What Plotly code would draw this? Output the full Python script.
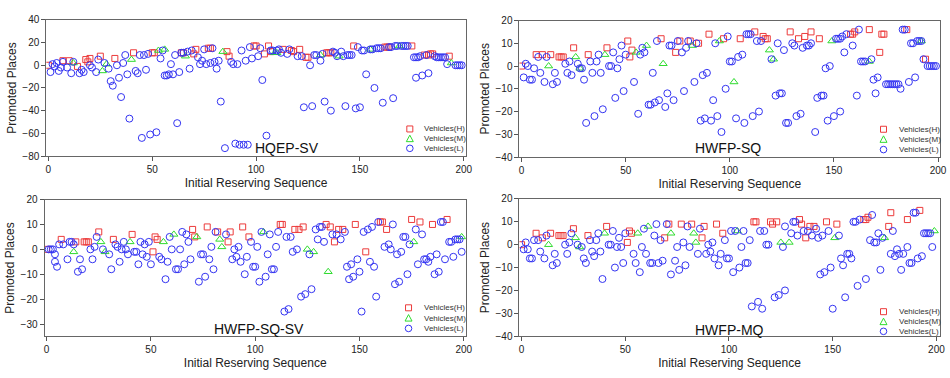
import plotly.graph_objects as go

W, H = 950, 378

# ---------------- data (x = initial reserving sequence, y = promoted places) ----------------
panel_titles = ["HQEP-SV", "HWFP-SQ", "HWFP-SQ-SV", "HWFP-MQ"]
series_names = ["Vehicles(H)", "Vehicles(M)", "Vehicles(L)"]
x_ticks = [0, 50, 100, 150, 200]

p1_h = [(0,0),(7,4),(10,4),(14,-1),(18,5),(19,3),(20,6),(25,8),(32,6),(41,11),(50,11),(51,11),
        (64,11),(65,11),(70,10),(71,14),(77,15),(78,15),(86,12),(87,8),(99,17),(100,17),(104,10),
        (106,17),(107,12),(113,14),(117,13),(118,12),(121,14),(124,7),(125,7),(134,11),(135,11),
        (136,11),(147,17),(162,16),(163,16),(164,16),(175,17),(181,9),(183,9),(184,10),(185,10),(193,8)]
p1_m = [(12,2),(26,-5),(28,1),(40,5),(53,13),(56,14),(66,8),(84,12),(109,11),(110,11),(131,9),
        (140,8),(155,14),(169,17),(194,2)]
p1_l = [(1,-6),(2,1),(3,-1),(4,2),(5,-5),(6,-2),(7,3),(9,-2),(11,-7),(12,3),(15,-7),(16,-4),(17,-6),
        (20,0),(21,-2),(23,-6),(24,5),(27,2),(29,-3),(30,-14),(31,-18),(33,0),(34,-11),(35,-28),(36,2),
        (37,9),(38,-8),(39,-47),(42,-5),(43,-7),(44,9),(45,-64),(46,9),(47,-4),(48,10),(49,-61),(52,-59),
        (54,6),(55,13),(56,-9),(57,-9),(58,-8),(59,1),(60,-8),(61,9),(62,-51),(63,-6),(64,11),(65,11),
        (67,12),(68,-3),(69,13),(72,7),(73,1),(74,4),(75,14),(76,1),(78,2),(79,15),(80,3),(81,-3),(82,4),
        (83,-32),(85,-73),(88,3),(89,1),(90,-69),(91,1),(92,-70),(93,13),(94,-70),(95,4),(96,-70),(97,16),
        (98,6),(101,8),(102,15),(103,-13),(105,-62),(107,13),(108,13),(110,13),(111,14),(112,11),(115,10),
        (116,14),(120,8),(122,8),(123,-37),(126,0),(127,-36),(128,9),(129,9),(131,4),(132,10),(133,-32),
        (136,-40),(137,12),(138,11),(139,8),(141,12),(142,8),(143,-36),(144,9),(145,9),(146,9),(148,-38),
        (149,16),(150,-37),(151,13),(152,13),(153,-8),(155,14),(156,14),(157,-20),(158,15),(159,15),
        (160,15),(161,-33),(164,16),(165,16),(166,-29),(167,17),(168,17),(170,17),(171,17),(172,17),
        (173,17),(176,7),(177,7),(177,-11),(178,7),(179,8),(180,-9),(182,9),(183,-7),(186,8),(187,7),
        (188,7),(189,7),(190,7),(191,7),(192,1),(196,0),(197,0),(198,0),(199,0)]

p2_h = [(0,0),(7,5),(10,5),(14,5),(18,4),(19,4),(20,4),(25,8),(32,5),(41,8),(51,11),(52,4),(53,7),
        (67,12),(74,6),(76,11),(81,11),(85,10),(90,14),(97,12),(105,12),(112,15),(116,13),(117,12),
        (118,12),(129,15),(133,12),(136,13),(139,15),(143,12),(158,14),(159,14),(160,15),(167,16),
        (172,6),(173,14),(174,14),(185,16),(194,3)]
p2_m = [(13,0),(26,4),(28,-1),(40,5),(55,6),(60,9),(68,1),(82,9),(95,11),(102,-7),(119,7),(121,3),
        (149,11),(167,2),(192,11)]
p2_l = [(1,-5),(2,1),(3,0),(4,-6),(5,-6),(6,-1),(8,4),(9,-3),(11,-7),(12,4),(15,-8),(16,-3),(17,-7),
        (21,1),(22,-3),(23,2),(24,-4),(27,1),(28,-1),(29,-1),(30,-6),(31,-25),(33,2),(34,-3),(35,-22),
        (36,2),(37,5),(38,-3),(39,-19),(42,0),(43,0),(44,6),(45,-14),(46,-1),(47,3),(48,9),(49,-11),
        (50,5),(54,-7),(56,-21),(57,5),(58,8),(59,6),(61,-17),(62,-17),(63,-3),(64,-16),(65,11),(66,-15),
        (69,-18),(70,-12),(71,9),(72,9),(73,-15),(75,11),(77,6),(78,-11),(79,8),(80,11),(83,-7),(84,10),
        (86,-24),(87,-4),(88,-23),(89,-3),(91,-24),(92,-15),(93,10),(94,-22),(96,-29),(98,-10),(99,13),
        (100,2),(101,2),(103,-23),(104,4),(106,5),(107,-25),(108,14),(109,14),(110,14),(111,-22),
        (113,11),(114,-20),(115,11),(120,3),(122,-13),(123,10),(124,-12),(125,-12),(126,7),(127,-25),
        (128,-25),(130,10),(131,9),(132,-22),(134,-21),(135,8),(137,9),(138,9),(139,10),(141,-29),
        (142,-14),(144,-13),(145,-13),(146,-1),(147,-24),(148,0),(150,-22),(151,12),(152,12),(153,12),
        (153,-20),(154,13),(155,6),(156,14),(159,9),(161,-13),(162,16),(163,2),(164,2),(165,2),(168,3),
        (169,-6),(170,-12),(171,-5),(175,-8),(176,-8),(177,-8),(178,-8),(179,-8),(180,-8),(181,-8),
        (182,-10),(183,16),(184,16),(186,-7),(187,10),(188,10),(189,-5),(190,11),(191,11),(192,11),
        (193,3),(195,0),(196,0),(197,0),(198,0),(199,0)]

p3_h = [(0,0),(7,4),(14,3),(18,3),(19,3),(20,3),(25,7),(32,4),(41,6),(51,-1),(52,5),(53,4),(70,8),
        (71,5),(77,9),(82,7),(87,3),(88,7),(94,9),(97,5),(112,10),(113,10),(119,8),(121,8),(123,9),
        (134,10),(136,9),(138,3),(140,8),(142,8),(148,10),(153,-1),(160,11),(161,11),(163,8),(175,12),
        (179,11),(185,10),(192,12)]
p3_m = [(13,-1),(26,3),(28,-1),(40,3),(56,3),(61,6),(72,5),(83,4),(84,1),(104,7),(125,0),(128,-1),
        (135,-9),(176,3),(199,5)]
p3_l = [(1,0),(2,0),(3,0),(4,-2),(4,-5),(5,-7),(6,2),(8,2),(10,-4),(11,3),(12,3),(13,2),(15,-9),
        (16,-4),(17,-8),(21,0),(22,-4),(23,1),(24,5),(27,0),(30,-2),(31,-8),(33,2),(34,1),(35,-5),
        (36,0),(37,3),(38,0),(39,-2),(42,-1),(43,-1),(44,-6),(45,3),(46,-2),(47,2),(48,-3),(49,3),
        (50,-6),(54,-3),(55,-4),(57,-12),(58,-5),(59,5),(60,0),(62,-8),(63,-8),(64,0),(65,7),(66,-6),
        (67,6),(68,3),(69,-4),(73,-13),(74,-2),(75,-2),(76,-11),(78,-4),(79,1),(80,-8),(81,7),(86,6),
        (89,-4),(90,0),(91,-3),(92,1),(93,-5),(95,-10),(96,-3),(98,3),(99,-7),(100,-7),(101,1),
        (102,-13),(103,7),(105,-11),(106,-2),(107,6),(108,-8),(109,-8),(110,1),(111,7),(114,-25),
        (115,5),(116,-24),(117,5),(118,-1),(120,0),(122,-19),(124,-18),(126,-2),(127,-16),(129,8),
        (130,4),(131,9),(132,9),(133,3),(137,6),(139,6),(141,4),(143,7),(144,-7),(145,-12),(146,-6),
        (147,-11),(149,-4),(150,-9),(151,-25),(152,7),(154,8),(155,-5),(156,9),(157,-7),(158,-19),
        (159,11),(162,1),(164,2),(165,0),(166,10),(167,-14),(168,-2),(169,-13),(170,-1),(171,5),
        (172,5),(173,-10),(174,2),(177,8),(178,-6),(180,6),(181,-4),(182,-4),(183,-5),(184,-3),
        (186,-10),(187,-2),(188,-9),(189,11),(190,11),(191,-4),(193,3),(194,3),(195,-3),(196,4),
        (197,4),(198,4),(199,-1)]

p4_h = [(0,0),(7,5),(10,3),(14,5),(18,4),(19,4),(20,4),(25,7),(32,4),(41,8),(51,1),(52,6),(53,5),
        (69,3),(71,9),(77,9),(82,9),(87,3),(88,8),(94,9),(97,5),(112,10),(113,10),(120,10),(121,9),
        (123,10),(134,11),(135,9),(137,3),(139,8),(141,8),(147,10),(152,9),(165,11),(166,11),(167,12),
        (177,8),(178,14),(186,11),(192,15)]
p4_m = [(13,0),(26,3),(28,-1),(40,5),(56,5),(61,8),(72,5),(83,5),(84,1),(104,6),(125,1),(129,1),
        (151,3),(175,3),(199,6)]
p4_l = [(1,-2),(2,1),(3,-2),(4,-6),(5,-6),(6,2),(8,2),(9,-3),(11,-6),(12,4),(15,-9),(16,-4),(17,-8),
        (21,0),(22,-4),(23,1),(24,5),(27,0),(29,-1),(30,-6),(31,-8),(33,2),(34,-3),(35,-5),(36,2),
        (37,5),(38,-3),(39,-15),(42,0),(43,0),(44,6),(45,-10),(46,-1),(47,3),(48,-1),(49,-8),(50,5),
        (54,-4),(55,-8),(57,-12),(58,-1),(59,7),(60,-4),(62,-8),(63,-8),(64,4),(65,9),(66,-8),(67,2),
        (68,-7),(70,9),(72,-13),(74,-7),(75,-1),(76,-11),(78,1),(79,-9),(80,8),(81,-1),(85,-4),(86,7),
        (89,-4),(90,0),(91,-3),(92,1),(93,-6),(95,-9),(96,-4),(98,2),(99,-6),(100,-6),(101,6),
        (102,-12),(103,6),(105,-10),(106,-1),(107,6),(108,-8),(109,-8),(110,2),(111,-27),(114,-25),
        (115,6),(116,-28),(117,6),(118,0),(119,0),(122,-23),(124,-22),(126,-1),(127,8),(127,-20),
        (130,5),(131,10),(132,10),(133,4),(136,6),(138,6),(140,4),(142,7),(143,3),(144,-13),(145,4),
        (146,-12),(148,6),(149,-10),(150,-28),(153,4),(154,-6),(155,-9),(156,-23),(157,-4),(158,-4),
        (159,-6),(160,10),(161,10),(162,-18),(163,11),(166,-15),(168,2),(169,13),(170,1),(171,1),
        (172,5),(173,-11),(174,3),(178,-4),(179,6),(180,-5),(181,-2),(182,-4),(183,-11),(184,-4),
        (186,-1),(187,-8),(188,-8),(189,14),(190,14),(191,-6),(193,-5),(194,5),(195,5),(196,5),
        (197,5),(198,-1)]

panels_data = [(p1_h, p1_m, p1_l), (p2_h, p2_m, p2_l), (p3_h, p3_m, p3_l), (p4_h, p4_m, p4_l)]
y_ranges = [(-80, 40), (-40, 20), (-35, 20), (-40, 20)]
y_dticks = [20, 10, 10, 10]

# ---------------- styling ----------------
RED, GREEN, BLUE = "#EC3B3B", "#2FDC2F", "#3434F2"
colors = [RED, GREEN, BLUE]
symbols = ["square-open", "triangle-up-open", "circle-open"]
sizes = [6, 7, 7]
FONT = "Liberation Sans, Arial, sans-serif"

# plot-area boxes in pixels: (left, right, top, bottom)
boxes = [(45.7, 468.8, 14.3, 155.0), (522.9, 947.1, 15.0, 156.0),
         (43.9, 468.8, 199.9, 341.3), (522.9, 946.5, 199.3, 341.0)]
x_ranges = [(-1, 201), (-1, 201), (-1, 201), (-1, 201.5)]

fig = go.Figure()
for i, data in enumerate(panels_data):
    ax = "" if i == 0 else str(i + 1)
    for j, pts in enumerate(data):
        xs = [p[0] for p in pts]
        ys = [p[1] for p in pts]
        fig.add_trace(go.Scatter(
            x=xs, y=ys, mode="markers", name=series_names[j], showlegend=False,
            xaxis="x" + ax, yaxis="y" + ax,
            marker=dict(symbol=symbols[j], size=sizes[j], color=colors[j],
                        line=dict(width=1, color=colors[j]))))

layout = dict(
    width=W, height=H, margin=dict(l=0, r=0, t=0, b=0),
    paper_bgcolor="white", plot_bgcolor="white",
    font=dict(family=FONT, color="#222"),
    showlegend=False,
)
axis_common = dict(showgrid=False, zeroline=False, showline=True, mirror=True,
                   linecolor="#666", linewidth=1, ticks="outside", ticklen=4,
                   tickwidth=1, tickcolor="#555", tickfont=dict(size=10, color="#222"))
for i, (l, r, t, b) in enumerate(boxes):
    ax = "" if i == 0 else str(i + 1)
    layout["xaxis" + ax] = dict(
        axis_common, domain=[l / W, r / W], range=list(x_ranges[i]),
        anchor="y" + ax, tickvals=x_ticks,
        title=dict(text="Initial Reserving Sequence", font=dict(size=12, color="#222"), standoff=4))
    layout["yaxis" + ax] = dict(
        axis_common, domain=[1 - b / H, 1 - t / H], range=list(y_ranges[i]),
        anchor="x" + ax, dtick=y_dticks[i], tick0=0,
        title=dict(text="Promoted Places", font=dict(size=12, color="#222"), standoff=3))
fig.update_layout(**layout)

# panel captions
cap_pos = [(288, 146.7), (733.3, 146.7), (260.5, 333.3), (734.7, 335)]
for (cx, cy), txt in zip(cap_pos, panel_titles):
    fig.add_annotation(x=cx / W, y=1 - cy / H, xref="paper", yref="paper", text=txt,
                       showarrow=False, xanchor="center", yanchor="middle",
                       font=dict(size=14, color="#111", family=FONT))

# compact legends (marker x, text x, row y's)
legend_pos = [(412.3, 425, [127, 137, 147]), (890, 903.3, [127.3, 137.7, 148.3]),
              (411, 425, [311.7, 322.3, 333]), (890, 903.3, [315.7, 326, 336])]
shapes = []
for mx, tx, rows in legend_pos:
    for j, ry in enumerate(rows):
        base = dict(xref="paper", yref="paper", xsizemode="pixel", ysizemode="pixel",
                    xanchor=mx / W, yanchor=1 - ry / H, line=dict(color=colors[j], width=1))
        if j == 0:
            shapes.append(dict(base, type="rect", x0=-3, x1=3, y0=-3, y1=3))
        elif j == 1:
            shapes.append(dict(base, type="path", path="M -3.5,-3 L 3.5,-3 L 0,3.5 Z"))
        else:
            shapes.append(dict(base, type="circle", x0=-3.3, x1=3.3, y0=-3.3, y1=3.3))
        fig.add_annotation(x=tx / W, y=1 - ry / H, xref="paper", yref="paper",
                           text=series_names[j], showarrow=False, xanchor="left",
                           yanchor="middle", font=dict(size=8, color="#333", family=FONT))
fig.update_layout(shapes=shapes)

fig.write_html("out.html")
